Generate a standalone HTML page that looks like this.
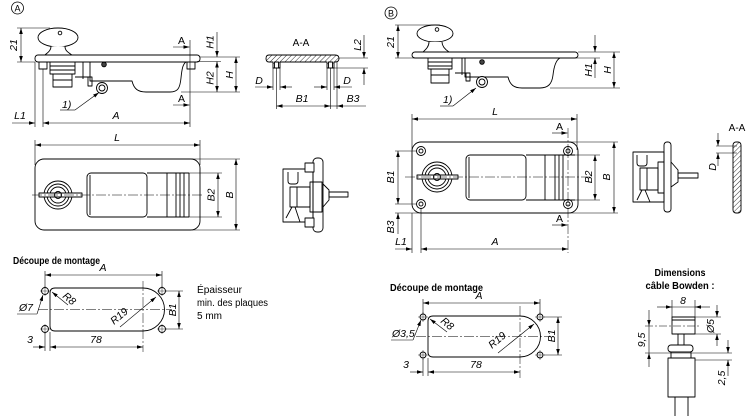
<!DOCTYPE html>
<html><head><meta charset="utf-8"><style>
html,body{margin:0;padding:0;background:#fff;}
svg{display:block;}
text{font-family:"Liberation Sans",sans-serif;font-style:italic;font-size:10.5px;fill:#000;stroke:none;}
.b{font-style:normal;font-weight:bold;font-size:10.5px;}
.n{font-style:normal;font-size:10px;}
.u{font-style:normal;}
</style></head><body>
<svg width="750" height="416" viewBox="0 0 750 416" xmlns="http://www.w3.org/2000/svg">
<defs>
<marker id="m" viewBox="0 0 10 6" refX="10" refY="3" markerWidth="6" markerHeight="3.6" orient="auto-start-reverse" markerUnits="userSpaceOnUse"><path d="M0,0 L10,3 L0,6 z" fill="#000"/></marker>
<pattern id="h" width="3.5" height="3.5" patternUnits="userSpaceOnUse" patternTransform="rotate(45)"><line x1="0" y1="0" x2="0" y2="3.5" stroke="#000" stroke-width="0.8"/></pattern>
</defs>

<!-- ===================== SECTION A ===================== -->
<g fill="none" stroke="#000" stroke-width="0.9" stroke-linejoin="round">
<circle cx="17.5" cy="8" r="6" stroke-width="0.8"/>
<!-- key -->
<ellipse cx="58" cy="37.5" rx="20" ry="9.5" fill="#fff"/>
<circle cx="60" cy="33" r="1.8"/>
<path d="M51,46.5 C51,51 47,53 45,55 L72,55 C69,53 65,51 65,46.5" fill="#fff"/>
<rect x="35" y="55" width="165" height="7" rx="3" fill="#fff"/>
<rect x="39" y="62" width="8" height="7"/>
<rect x="187" y="62" width="8" height="7"/>
<rect x="50" y="62" width="25" height="12"/>
<line x1="50" y1="66" x2="75" y2="66"/>
<line x1="50" y1="70" x2="75" y2="70"/>
<rect x="53" y="74" width="19" height="13"/>
<line x1="53" y1="80" x2="72" y2="80"/>
<path d="M83,62 V79 M75,77 H92 V86 H88 V77"/>
<circle cx="104" cy="64.5" r="2.3" fill="#444"/>
<path d="M90,62 V81 H132 C134,89 138,92 146,92 H170 C178,92 180,88 181,78 C182,68 183,64 186,62"/>
<circle cx="102" cy="88" r="5.5" fill="#fff"/>
<circle cx="102" cy="88" r="3"/>

<!-- A-A section -->
<path d="M269,55 H335 Q339,55 339,58.5 Q339,62 335,62 H334 V68 H327 V62 H280 V68 H273 V62 H269 Q266,62 266,58.5 Q266,55 269,55 Z" fill="url(#h)"/>
<rect x="274.5" y="62" width="4" height="6" fill="#fff"/>
<rect x="328.5" y="62" width="4" height="6" fill="#fff"/>

<!-- top view A -->
<rect x="35" y="159" width="165" height="71" rx="9"/>
<rect x="87" y="173" width="60" height="44" rx="4"/>
<line x1="90" y1="175" x2="90" y2="215"/>
<path d="M147,173 H189 M147,217 H189 M167,173 V217 M176,173 V217 M180,173 V217 M184,173 V217 M189,173 V217"/>
<circle cx="58" cy="195" r="14"/>
<circle cx="58" cy="195" r="11"/>
<circle cx="58" cy="195" r="8"/>
<rect x="39" y="193" width="43" height="4" fill="#fff"/>
<circle cx="58" cy="195" r="3.5"/>

<!-- side view A -->
<rect x="313" y="158" width="10" height="74" rx="4"/>
<rect x="283" y="169" width="30" height="53"/>
<rect x="305" y="163" width="9" height="9" fill="#fff"/>
<rect x="305" y="218" width="9" height="9" fill="#fff"/>
<path d="M288,172 V181 Q288,184 291,184 H295 Q298,184 298,181 V172"/>
<rect x="290" y="187" width="20" height="20"/>
<line x1="297" y1="187" x2="297" y2="207"/>
<rect x="310" y="182" width="12" height="30"/>
<path d="M323,184 L329,190 V200 L323,207"/>
<rect x="329" y="192" width="19" height="5"/>
<path d="M295,207 L300,222 M292,207 L286,218"/>

<!-- cutout A -->
<path d="M55,288 H143 A21.5,21.5 0 0 1 143,331 H55 Q50,331 50,326 V293 Q50,288 55,288 Z"/>
<circle cx="45" cy="291" r="3.5"/><circle cx="162" cy="291" r="3.5"/>
<circle cx="45" cy="329" r="3.5"/><circle cx="162" cy="329" r="3.5"/>
</g>

<g fill="none" stroke="#000" stroke-width="0.6">
<!-- side A dims -->
<line x1="75" y1="110" x2="99" y2="92.5" marker-end="url(#m)"/>
<line x1="60" y1="110" x2="75" y2="110"/>
<line x1="21" y1="28" x2="21" y2="62" marker-start="url(#m)" marker-end="url(#m)"/>
<line x1="17" y1="28" x2="50" y2="28"/>
<line x1="17" y1="62" x2="35" y2="62"/>
<line x1="190" y1="40" x2="190" y2="127"/>
<line x1="173" y1="47" x2="189.5" y2="47" marker-end="url(#m)"/>
<line x1="173" y1="105" x2="189.5" y2="105" marker-end="url(#m)"/>
<line x1="200" y1="57" x2="240" y2="57"/>
<line x1="197" y1="61.5" x2="221" y2="61.5"/>
<line x1="181" y1="92" x2="240" y2="92"/>
<line x1="217" y1="32" x2="217" y2="57" marker-end="url(#m)"/>
<line x1="217" y1="61.5" x2="217" y2="92" marker-start="url(#m)" marker-end="url(#m)"/>
<line x1="236" y1="57" x2="236" y2="92" marker-start="url(#m)" marker-end="url(#m)"/>
<line x1="35" y1="62" x2="35" y2="127"/>
<line x1="43" y1="69" x2="43" y2="127"/>
<line x1="12" y1="123" x2="35" y2="123" marker-end="url(#m)"/>
<line x1="43" y1="123" x2="190" y2="123" marker-start="url(#m)" marker-end="url(#m)"/>

<!-- A-A dims -->
<path d="M273,68 V90 M280,68 V90 M327,68 V90 M334,68 V90 M276.5,68 V109 M330.5,68 V109 M337,62 V109"/>
<line x1="255" y1="87" x2="273" y2="87" marker-end="url(#m)"/>
<line x1="292" y1="87" x2="280" y2="87" marker-end="url(#m)"/>
<line x1="314" y1="87" x2="327" y2="87" marker-end="url(#m)"/>
<line x1="352" y1="87" x2="334" y2="87" marker-end="url(#m)"/>
<line x1="276.5" y1="106" x2="330.5" y2="106" marker-start="url(#m)" marker-end="url(#m)"/>
<line x1="330.5" y1="106" x2="337" y2="106"/>
<line x1="366" y1="106" x2="337" y2="106" marker-end="url(#m)"/>
<line x1="339" y1="58" x2="368" y2="58"/>
<line x1="334" y1="68" x2="368" y2="68"/>
<line x1="364" y1="35" x2="364" y2="58" marker-end="url(#m)"/>
<line x1="364" y1="85" x2="364" y2="68" marker-end="url(#m)"/>

<!-- top view A dims -->
<line x1="35" y1="145" x2="200" y2="145" marker-start="url(#m)" marker-end="url(#m)"/>
<line x1="35" y1="140" x2="35" y2="165"/>
<line x1="200" y1="140" x2="200" y2="165"/>
<line x1="192" y1="159" x2="240" y2="159"/>
<line x1="192" y1="230" x2="240" y2="230"/>
<line x1="236" y1="159" x2="236" y2="230" marker-start="url(#m)" marker-end="url(#m)"/>
<line x1="189" y1="173" x2="222" y2="173"/>
<line x1="189" y1="217" x2="222" y2="217"/>
<line x1="218" y1="173" x2="218" y2="217" marker-start="url(#m)" marker-end="url(#m)"/>
<line x1="32" y1="195" x2="202" y2="195" stroke-dasharray="10 2 2 2" stroke-width="0.5"/>

<!-- cutout A dims -->
<line x1="45" y1="275" x2="162" y2="275" marker-start="url(#m)" marker-end="url(#m)"/>
<line x1="45" y1="271" x2="45" y2="287"/>
<line x1="162" y1="271" x2="162" y2="287"/>
<line x1="38" y1="309.5" x2="172" y2="309.5" stroke-dasharray="10 2 2 2" stroke-width="0.5"/>
<line x1="143" y1="281" x2="143" y2="352" stroke-dasharray="10 2 2 2" stroke-width="0.5"/>
<path d="M40,291 H50 M45,286 V296 M157,291 H167 M162,286 V296 M40,329 H50 M45,324 V334 M157,329 H167 M162,324 V334" stroke-width="0.4"/>
<line x1="17" y1="314" x2="37" y2="314"/>
<line x1="37" y1="314" x2="43" y2="295" marker-end="url(#m)"/>
<line x1="68" y1="305" x2="52" y2="292" marker-end="url(#m)"/>
<line x1="120" y1="327" x2="156" y2="297" marker-end="url(#m)"/>
<line x1="166" y1="291" x2="183" y2="291"/>
<line x1="166" y1="329" x2="183" y2="329"/>
<line x1="179" y1="291" x2="179" y2="329" marker-start="url(#m)" marker-end="url(#m)"/>
<line x1="33" y1="347" x2="45" y2="347" marker-end="url(#m)"/>
<line x1="50" y1="347" x2="143" y2="347" marker-start="url(#m)" marker-end="url(#m)"/>
<line x1="45" y1="333" x2="45" y2="351"/>
<line x1="50" y1="332" x2="50" y2="351"/>
</g>

<!-- texts A -->
<text x="17.5" y="11.5" text-anchor="middle" class="u" style="font-size:9px">A</text>
<text x="62" y="108">1)</text>
<text transform="translate(17,45) rotate(-90)" text-anchor="middle">21</text>
<text x="178" y="44" class="u">A</text>
<text x="178" y="102" class="u">A</text>
<text transform="translate(213.5,42) rotate(-90)" text-anchor="middle">H1</text>
<text transform="translate(213.5,78) rotate(-90)" text-anchor="middle">H2</text>
<text transform="translate(233,75) rotate(-90)" text-anchor="middle">H</text>
<text x="20" y="119" text-anchor="middle">L1</text>
<text x="116" y="119" text-anchor="middle">A</text>
<text x="301" y="46" text-anchor="middle" class="u" style="font-size:10px">A-A</text>
<text x="259" y="84" text-anchor="middle">D</text>
<text x="347" y="84" text-anchor="middle">D</text>
<text x="302" y="102" text-anchor="middle">B1</text>
<text x="353" y="102" text-anchor="middle">B3</text>
<text transform="translate(361,45) rotate(-90)" text-anchor="middle">L2</text>
<text x="117" y="141" text-anchor="middle">L</text>
<text transform="translate(233,195) rotate(-90)" text-anchor="middle">B</text>
<text transform="translate(214.5,195) rotate(-90)" text-anchor="middle">B2</text>
<text x="13" y="264" class="b" textLength="87" lengthAdjust="spacingAndGlyphs">Découpe de montage</text>
<text x="103" y="271" text-anchor="middle">A</text>
<text x="19" y="311">Ø7</text>
<text transform="translate(62,297) rotate(40)">R8</text>
<text transform="translate(114,325) rotate(-40)">R19</text>
<text transform="translate(176,310) rotate(-90)" text-anchor="middle">B1</text>
<text x="30" y="343" text-anchor="middle">3</text>
<text x="96" y="343" text-anchor="middle">78</text>
<text x="197" y="293" class="n" textLength="45" lengthAdjust="spacingAndGlyphs">Épaisseur</text>
<text x="197" y="306" class="n" textLength="71" lengthAdjust="spacingAndGlyphs">min. des plaques</text>
<text x="197" y="319" class="n">5 mm</text>

<!-- ===================== SECTION B ===================== -->
<g fill="none" stroke="#000" stroke-width="0.9" stroke-linejoin="round">
<circle cx="391" cy="13" r="6" stroke-width="0.8"/>
<ellipse cx="435" cy="33.5" rx="18" ry="8.5" fill="#fff"/>
<circle cx="437" cy="29.5" r="1.8"/>
<path d="M429,42 C429,47 425,50 423,52 L449,52 C446,50 442,47 442,42" fill="#fff"/>
<rect x="412" y="52" width="166" height="6" rx="3" fill="#fff"/>
<rect x="428" y="58" width="24" height="11"/>
<line x1="428" y1="62" x2="452" y2="62"/>
<line x1="428" y1="66" x2="452" y2="66"/>
<rect x="431" y="69" width="18" height="14"/>
<line x1="431" y1="75" x2="449" y2="75"/>
<path d="M462,58 V75 M455,73 H470 V81 H466 V73"/>
<circle cx="482" cy="62" r="2.3" fill="#444"/>
<path d="M465,58 V77 H508 C510,85 514,88 522,88 H540 C548,88 552,84 553,75 C554,66 556,60 560,58"/>
<circle cx="482" cy="82" r="5.5" fill="#fff"/>
<circle cx="482" cy="82" r="3"/>

<!-- top view B -->
<rect x="412" y="142" width="166" height="71" rx="9"/>
<circle cx="421" cy="151" r="4.5"/><circle cx="421" cy="151" r="2"/>
<circle cx="568" cy="151" r="4.5"/><circle cx="568" cy="151" r="2"/>
<circle cx="421" cy="204" r="4.5"/><circle cx="421" cy="204" r="2"/>
<circle cx="568" cy="204" r="4.5"/><circle cx="568" cy="204" r="2"/>
<circle cx="437" cy="177" r="15"/>
<circle cx="437" cy="177" r="12"/>
<circle cx="437" cy="177" r="9"/>
<rect x="417" y="175" width="41" height="4" fill="#fff"/>
<circle cx="437" cy="177" r="3.5"/>
<rect x="466" y="155" width="60" height="45" rx="4"/>
<line x1="469" y1="157" x2="469" y2="198"/>
<path d="M526,155 H575 M526,200 H575 M545,155 V200 M555,155 V200 M559,155 V200 M563,155 V200"/>

<!-- side view B -->
<rect x="664" y="142" width="7" height="70" rx="3"/>
<rect x="633" y="152" width="31" height="50"/>
<path d="M637,155 V163 Q637,166 640,166 H644 Q647,166 647,163 V155"/>
<rect x="640" y="168" width="18" height="22"/>
<line x1="647" y1="168" x2="647" y2="190"/>
<rect x="658" y="162" width="6" height="31"/>
<path d="M671,162 L678,170 V182 L671,187"/>
<rect x="678" y="173" width="20" height="5"/>
<path d="M645,190 L650,202 M642,190 L637,200"/>

<!-- A-A B -->
<rect x="733" y="142" width="8" height="71" rx="3" fill="url(#h)"/>

<!-- cutout B -->
<path d="M433,316 H520 A20.5,20.5 0 0 1 520,357 H433 Q428,357 428,352 V321 Q428,316 433,316 Z"/>
<circle cx="423" cy="317" r="3"/><circle cx="540" cy="317" r="3"/>
<circle cx="423" cy="355" r="3"/><circle cx="540" cy="355" r="3"/>

<!-- bowden -->
<rect x="672" y="317" width="23" height="17"/>
<line x1="672" y1="320" x2="695" y2="320"/>
<rect x="678" y="334" width="6" height="11"/>
<rect x="668" y="345" width="25" height="7" rx="3" fill="#fff"/>
<rect x="671" y="352" width="20" height="6"/>
<rect x="668" y="358" width="27" height="39"/>
<rect x="675" y="397" width="13" height="20"/>
</g>

<g fill="none" stroke="#000" stroke-width="0.6">
<!-- side B dims -->
<line x1="398" y1="25" x2="398" y2="58" marker-start="url(#m)" marker-end="url(#m)"/>
<line x1="395" y1="25" x2="440" y2="25"/>
<line x1="395" y1="58" x2="600" y2="58"/>
<line x1="453" y1="106" x2="476" y2="88" marker-end="url(#m)"/>
<line x1="440" y1="106" x2="453" y2="106"/>
<line x1="578" y1="52" x2="620" y2="52"/>
<line x1="550" y1="88" x2="620" y2="88"/>
<line x1="595" y1="35" x2="595" y2="52" marker-end="url(#m)"/>
<line x1="595" y1="78" x2="595" y2="58" marker-end="url(#m)"/>
<line x1="614" y1="52" x2="614" y2="88" marker-start="url(#m)" marker-end="url(#m)"/>

<!-- top B dims -->
<line x1="412" y1="119" x2="577" y2="119" marker-start="url(#m)" marker-end="url(#m)"/>
<line x1="412" y1="114" x2="412" y2="150"/>
<line x1="577" y1="114" x2="577" y2="150"/>
<line x1="405" y1="177" x2="590" y2="177" stroke-dasharray="10 2 2 2" stroke-width="0.5"/>
<line x1="568" y1="128" x2="568" y2="253" stroke-dasharray="10 2 2 2" stroke-width="0.5"/>
<line x1="552" y1="133" x2="567.5" y2="133" marker-end="url(#m)"/>
<line x1="552" y1="225" x2="567.5" y2="225" marker-end="url(#m)"/>
<line x1="398" y1="151" x2="398" y2="204" marker-start="url(#m)" marker-end="url(#m)"/>
<line x1="395" y1="151" x2="417" y2="151"/>
<line x1="395" y1="204" x2="417" y2="204"/>
<line x1="395" y1="213" x2="420" y2="213"/>
<line x1="398" y1="234" x2="398" y2="213" marker-end="url(#m)"/>
<line x1="575" y1="155" x2="600" y2="155"/>
<line x1="575" y1="200" x2="600" y2="200"/>
<line x1="595" y1="155" x2="595" y2="200" marker-start="url(#m)" marker-end="url(#m)"/>
<line x1="570" y1="142" x2="618" y2="142"/>
<line x1="570" y1="213" x2="618" y2="213"/>
<line x1="614" y1="142" x2="614" y2="213" marker-start="url(#m)" marker-end="url(#m)"/>
<line x1="412" y1="213" x2="412" y2="253"/>
<line x1="421" y1="208" x2="421" y2="253"/>
<line x1="395" y1="249" x2="412" y2="249" marker-end="url(#m)"/>
<line x1="421" y1="249" x2="568" y2="249" marker-start="url(#m)" marker-end="url(#m)"/>

<!-- A-A B dims -->
<line x1="716" y1="146" x2="737" y2="146"/>
<line x1="716" y1="153" x2="737" y2="153"/>
<line x1="718" y1="133" x2="718" y2="146" marker-end="url(#m)"/>
<line x1="718" y1="166" x2="718" y2="153" marker-end="url(#m)"/>

<!-- cutout B dims -->
<line x1="423" y1="303" x2="540" y2="303" marker-start="url(#m)" marker-end="url(#m)"/>
<line x1="423" y1="299" x2="423" y2="314"/>
<line x1="540" y1="299" x2="540" y2="314"/>
<line x1="416" y1="336.5" x2="550" y2="336.5" stroke-dasharray="10 2 2 2" stroke-width="0.5"/>
<line x1="520" y1="306" x2="520" y2="378" stroke-dasharray="10 2 2 2" stroke-width="0.5"/>
<path d="M418,317 H428 M423,312 V322 M535,317 H545 M540,312 V322 M418,355 H428 M423,350 V360 M535,355 H545 M540,350 V360" stroke-width="0.4"/>
<line x1="391" y1="340" x2="413" y2="340"/>
<line x1="413" y1="340" x2="421" y2="320" marker-end="url(#m)"/>
<line x1="447" y1="332" x2="430" y2="319" marker-end="url(#m)"/>
<line x1="498" y1="353" x2="534" y2="324" marker-end="url(#m)"/>
<line x1="544" y1="317" x2="562" y2="317"/>
<line x1="544" y1="355" x2="562" y2="355"/>
<line x1="558" y1="317" x2="558" y2="355" marker-start="url(#m)" marker-end="url(#m)"/>
<line x1="410" y1="372" x2="423" y2="372" marker-end="url(#m)"/>
<line x1="428" y1="372" x2="520" y2="372" marker-start="url(#m)" marker-end="url(#m)"/>
<line x1="423" y1="359" x2="423" y2="376"/>
<line x1="428" y1="358" x2="428" y2="376"/>

<!-- bowden dims -->
<line x1="672" y1="300" x2="672" y2="317"/>
<line x1="695" y1="300" x2="695" y2="317"/>
<line x1="672" y1="307" x2="695" y2="307"/>
<line x1="657" y1="307" x2="672" y2="307" marker-end="url(#m)"/>
<line x1="710" y1="307" x2="695" y2="307" marker-end="url(#m)"/>
<line x1="695" y1="317" x2="721" y2="317"/>
<line x1="695" y1="334" x2="721" y2="334"/>
<line x1="717" y1="305" x2="717" y2="317" marker-end="url(#m)"/>
<line x1="717" y1="346" x2="717" y2="334" marker-end="url(#m)"/>
<line x1="645" y1="326" x2="700" y2="326" stroke-dasharray="8 2 2 2" stroke-width="0.5"/>
<line x1="645" y1="353" x2="732" y2="353"/>
<line x1="695" y1="360" x2="732" y2="360"/>
<line x1="649" y1="326" x2="649" y2="353"/>
<line x1="649" y1="310" x2="649" y2="326" marker-end="url(#m)"/>
<line x1="649" y1="367" x2="649" y2="353" marker-end="url(#m)"/>
<line x1="728" y1="340" x2="728" y2="353" marker-end="url(#m)"/>
<line x1="728" y1="376" x2="728" y2="360" marker-end="url(#m)"/>
</g>

<!-- texts B -->
<text x="391" y="16.5" text-anchor="middle" class="u" style="font-size:9px">B</text>
<text transform="translate(394,42) rotate(-90)" text-anchor="middle">21</text>
<text x="443" y="103">1)</text>
<text transform="translate(592,70) rotate(-90)" text-anchor="middle">H1</text>
<text transform="translate(611,70) rotate(-90)" text-anchor="middle">H</text>
<text x="495" y="115" text-anchor="middle">L</text>
<text x="556" y="130" class="u">A</text>
<text x="556" y="222" class="u">A</text>
<text transform="translate(394,177) rotate(-90)" text-anchor="middle">B1</text>
<text transform="translate(394,227) rotate(-90)" text-anchor="middle">B3</text>
<text transform="translate(592,177) rotate(-90)" text-anchor="middle">B2</text>
<text transform="translate(610,177) rotate(-90)" text-anchor="middle">B</text>
<text x="401" y="245" text-anchor="middle">L1</text>
<text x="495" y="245" text-anchor="middle">A</text>
<text x="737" y="131" text-anchor="middle" class="u" style="font-size:10px">A-A</text>
<text transform="translate(716,167) rotate(-90)" text-anchor="middle">D</text>
<text x="390" y="291" class="b" textLength="93" lengthAdjust="spacingAndGlyphs">Découpe de montage</text>
<text x="479" y="299" text-anchor="middle">A</text>
<text x="392" y="337">Ø3,5</text>
<text transform="translate(440,322) rotate(40)">R8</text>
<text transform="translate(492,349) rotate(-40)">R19</text>
<text transform="translate(555,336) rotate(-90)" text-anchor="middle">B1</text>
<text x="406" y="368" text-anchor="middle">3</text>
<text x="476" y="368" text-anchor="middle">78</text>
<text x="680" y="276" text-anchor="middle" class="b" textLength="51" lengthAdjust="spacingAndGlyphs">Dimensions</text>
<text x="680" y="289" text-anchor="middle" class="b" textLength="69" lengthAdjust="spacingAndGlyphs">câble Bowden :</text>
<text x="683" y="304" text-anchor="middle">8</text>
<text transform="translate(714,326) rotate(-90)" text-anchor="middle">Ø5</text>
<text transform="translate(645,340) rotate(-90)" text-anchor="middle">9,5</text>
<text transform="translate(725,378) rotate(-90)" text-anchor="middle">2,5</text>
</svg>
</body></html>
